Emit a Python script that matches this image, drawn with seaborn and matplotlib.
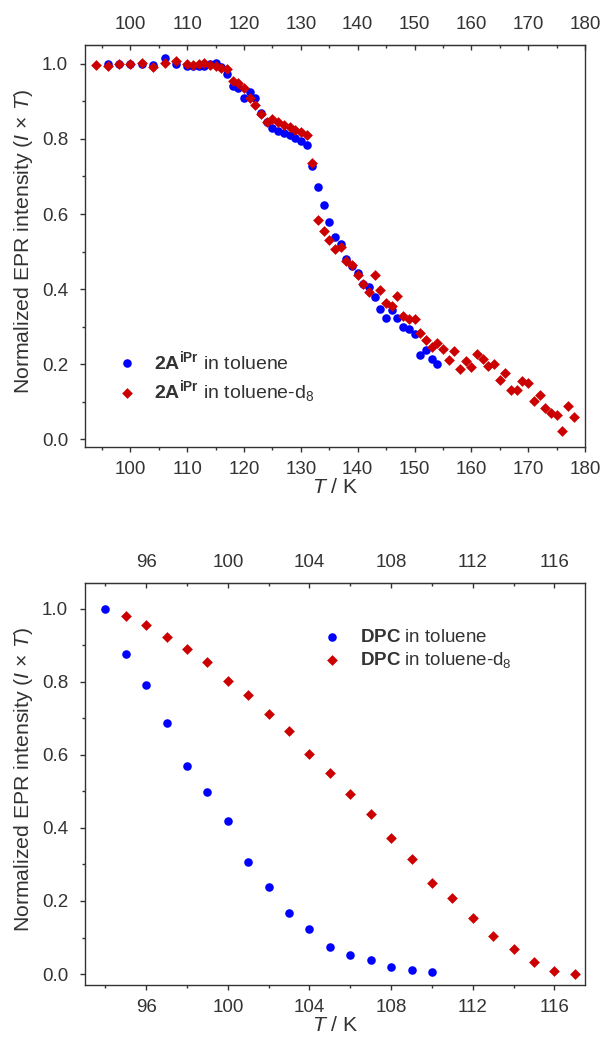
import numpy as np
import pandas as pd
import matplotlib
matplotlib.use("Agg")
import matplotlib.pyplot as plt
from matplotlib.ticker import MultipleLocator, FixedLocator, FormatStrFormatter
import seaborn as sns

# ---------------- data: top panel (2A^iPr) ----------------
top_tol_T = [96, 98, 100, 102, 104, 106, 108, 110, 111, 112, 113, 114, 115, 116,
             117, 118, 119, 120, 121, 122, 123, 124, 125, 126, 127, 128, 129, 130,
             131, 132, 133, 134, 135, 136, 137, 138, 139, 140, 141, 142, 143, 144,
             145, 146, 147, 148, 149, 150, 151, 152, 153, 154]
top_tol_I = [1.000, 1.000, 0.999, 1.000, 0.998, 1.015, 1.000, 0.995, 0.993, 0.994,
             0.995, 1.000, 1.003, 0.992, 0.973, 0.942, 0.935, 0.910, 0.924, 0.908,
             0.868, 0.845, 0.828, 0.821, 0.815, 0.811, 0.802, 0.795, 0.783, 0.728,
             0.672, 0.624, 0.580, 0.540, 0.519, 0.479, 0.462, 0.442, 0.413, 0.406,
             0.378, 0.348, 0.324, 0.344, 0.324, 0.300, 0.293, 0.280, 0.224, 0.239,
             0.215, 0.202]

top_d8_T = [94, 96, 98, 100, 102, 104, 106, 108, 110, 111, 112, 113, 114, 115, 116,
            117, 118, 119, 120, 121, 122, 123, 124, 125, 126, 127, 128, 129, 130,
            131, 132, 133, 134, 135, 136, 137, 138, 139, 140, 141, 142, 143, 144,
            145, 146, 147, 148, 149, 150, 151, 152, 153, 154, 155, 156, 157, 158,
            159, 160, 161, 162, 163, 164, 165, 166, 167, 168, 169, 170, 171, 172,
            173, 174, 175, 176, 177, 178]
top_d8_I = [0.997, 0.995, 1.000, 1.000, 1.002, 0.992, 1.002, 1.008, 1.000, 0.997,
            0.999, 1.001, 0.996, 0.993, 0.990, 0.987, 0.953, 0.948, 0.935, 0.910,
            0.889, 0.867, 0.846, 0.853, 0.846, 0.837, 0.833, 0.824, 0.818, 0.811,
            0.735, 0.584, 0.556, 0.532, 0.506, 0.511, 0.475, 0.465, 0.438, 0.415,
            0.393, 0.437, 0.397, 0.362, 0.356, 0.381, 0.328, 0.320, 0.320, 0.284,
            0.264, 0.246, 0.257, 0.241, 0.212, 0.236, 0.188, 0.210, 0.193, 0.227,
            0.215, 0.196, 0.202, 0.157, 0.177, 0.132, 0.131, 0.155, 0.150, 0.101,
            0.117, 0.085, 0.071, 0.064, 0.022, 0.089, 0.059]

top_xticks = [100, 110, 120, 130, 140, 150, 160, 170, 180]

# ---------------- data: bottom panel (DPC) ----------------
bot_tol_T = [94, 95, 96, 97, 98, 99, 100, 101, 102, 103, 104, 105, 106, 107, 108, 109, 110]
bot_tol_I = [1.000, 0.875, 0.791, 0.687, 0.569, 0.497, 0.420, 0.306, 0.238, 0.166,
             0.123, 0.074, 0.051, 0.039, 0.019, 0.010, 0.005]

bot_d8_T = [95, 96, 97, 98, 99, 100, 101, 102, 103, 104, 105, 106, 107, 108, 109,
            110, 111, 112, 113, 114, 115, 116, 117]
bot_d8_I = [0.979, 0.955, 0.923, 0.889, 0.853, 0.803, 0.764, 0.712, 0.666, 0.603,
            0.549, 0.493, 0.439, 0.371, 0.314, 0.250, 0.207, 0.153, 0.105, 0.068,
            0.033, 0.008, 0.000]

bot_xticks = [96, 100, 104, 108, 112, 116]

top_labels = [r"$\mathbf{2A}^{\mathbf{iPr}}$ in toluene",
              r"$\mathbf{2A}^{\mathbf{iPr}}$ in toluene-d$_{8}$"]
bot_labels = [r"$\mathbf{DPC}$ in toluene",
              r"$\mathbf{DPC}$ in toluene-d$_{8}$"]

# ---------------- style ----------------
sns.set_style("ticks")
plt.rcParams["font.family"] = ["Liberation Sans", "DejaVu Sans"]
plt.rcParams["mathtext.fontset"] = "custom"
plt.rcParams["mathtext.rm"] = "Liberation Sans"
plt.rcParams["mathtext.it"] = "Liberation Sans:italic"
plt.rcParams["mathtext.bf"] = "Liberation Sans:bold"
plt.rcParams["mathtext.sf"] = "Liberation Sans"

TXT = "#333333"
BLUE = "#0000ff"
RED = "#cc0000"
FS = 13.5
FS_LAB = 15.3

fig = plt.figure(figsize=(6.04, 10.46), dpi=100)
ax1 = fig.add_axes([0.1407, 0.5727, 0.8278, 0.3843])
ax2 = fig.add_axes([0.1407, 0.0583, 0.8278, 0.3843])


def draw(ax, tT, tI, dT, dI, labels, xlim, ylim, xticks, xmin_):
    df1 = pd.DataFrame({"T": tT, "I": tI})
    df2 = pd.DataFrame({"T": dT, "I": dI})
    sns.scatterplot(data=df1, x="T", y="I", ax=ax, color=BLUE, marker="o",
                    s=38, linewidth=0, label=labels[0], zorder=3)
    sns.scatterplot(data=df2, x="T", y="I", ax=ax, color=RED, marker="D",
                    s=30, linewidth=0, label=labels[1], zorder=4)
    ax.set_xlim(*xlim)
    ax.set_ylim(*ylim)
    ax.xaxis.set_major_locator(FixedLocator(xticks))
    ax.xaxis.set_minor_locator(MultipleLocator(xmin_))
    ax.yaxis.set_major_locator(MultipleLocator(0.2))
    ax.yaxis.set_minor_locator(MultipleLocator(0.1))
    ax.yaxis.set_major_formatter(FormatStrFormatter("%.1f"))
    for sp in ax.spines.values():
        sp.set_visible(True)
        sp.set_color(TXT)
        sp.set_linewidth(1.0)
    ax.tick_params(which="major", direction="out", length=3.6, width=1.0,
                   colors=TXT, labelsize=FS, labelcolor=TXT)
    ax.tick_params(which="minor", direction="out", length=2.2, width=1.0, colors=TXT)
    ax.tick_params(axis="x", which="major", pad=6.5)
    ax.tick_params(axis="y", which="major", pad=8.5)
    ax.tick_params(axis="x", top=False, which="both")
    ax.tick_params(axis="y", right=False, which="both")
    sec = ax.secondary_xaxis("top")
    sec.xaxis.set_major_locator(FixedLocator(xticks))
    sec.xaxis.set_minor_locator(MultipleLocator(xmin_))
    sec.tick_params(which="major", direction="in", length=3.6, width=1.0,
                    colors=TXT, labelsize=FS, labelcolor=TXT, pad=8.5)
    sec.tick_params(which="minor", direction="in", length=2.2, width=1.0, colors=TXT)
    sec.spines["top"].set_color(TXT)
    ax.set_xlabel(r"$T$ / K", fontsize=FS_LAB, color=TXT, labelpad=0)
    ax.set_ylabel(r"Normalized EPR intensity ($I$ × $T$)", fontsize=FS_LAB,
                  color=TXT)
    ax.yaxis.set_label_coords(-0.100, 0.51)


draw(ax1, top_tol_T, top_tol_I, top_d8_T, top_d8_I, top_labels,
     (92, 180), (-0.02, 1.05), top_xticks, 5)
draw(ax2, bot_tol_T, bot_tol_I, bot_d8_T, bot_d8_I, bot_labels,
     (93, 117.5), (-0.03, 1.07), bot_xticks, 2)

leg1 = ax1.legend(loc="lower left", bbox_to_anchor=(0.026, 0.06), frameon=False,
                  fontsize=14, handletextpad=0.8, labelspacing=0.3,
                  handlelength=1.2, labelcolor=TXT)
leg2 = ax2.legend(loc="upper left", bbox_to_anchor=(0.437, 0.9275), frameon=False,
                  fontsize=FS, handletextpad=0.92, labelspacing=0.2,
                  handlelength=1.2, labelcolor=TXT)

fig.savefig("out.png", dpi=100)
